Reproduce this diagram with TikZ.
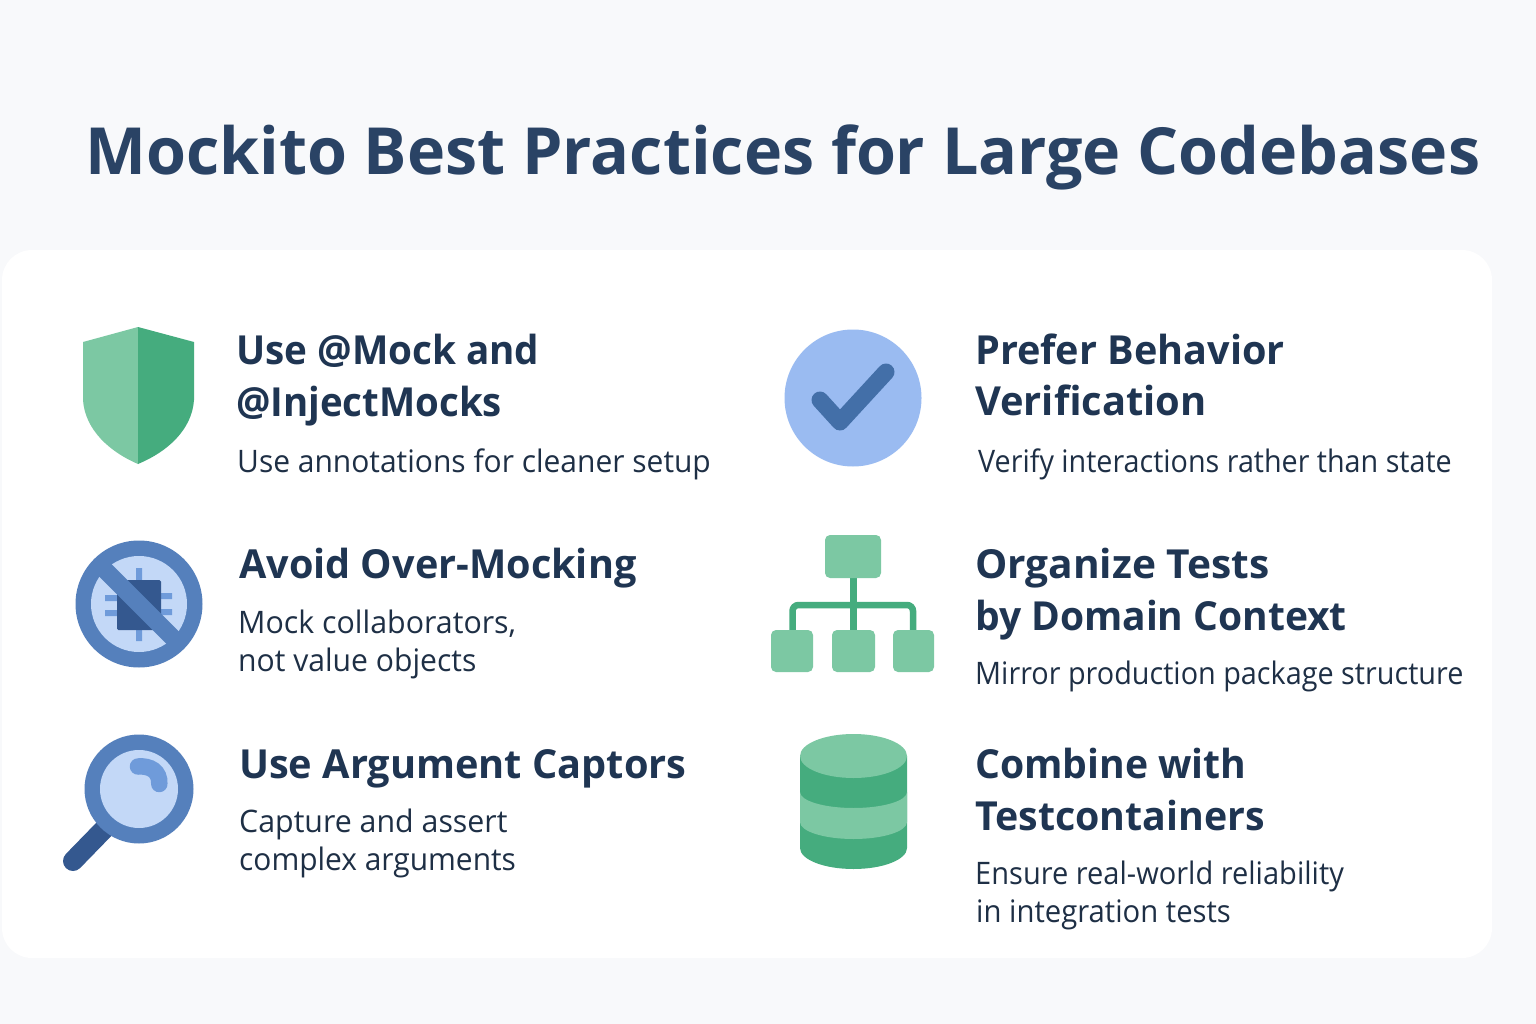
\documentclass[tikz,border=0pt]{standalone}
\usepackage{graphicx}
\usepackage{fontspec}
\setmainfont{Open Sans}
\definecolor{bgc}{HTML}{F8F9FB}
\definecolor{titlec}{HTML}{2A4365}
\definecolor{headc}{HTML}{1F3552}
\definecolor{descc}{HTML}{1E2F45}
\definecolor{gl}{HTML}{7CC8A3}
\definecolor{gd}{HTML}{45AC7E}
\definecolor{bring}{HTML}{5580BC}
\definecolor{bpale}{HTML}{C3D8F7}
\definecolor{bdark}{HTML}{34588F}
\definecolor{bmid}{HTML}{6F9BDA}
\definecolor{bsky}{HTML}{9ABBF1}
\definecolor{bcheck}{HTML}{436FA8}
\newcommand{\sx}[2]{\scalebox{#1}[1]{#2}}
\tikzset{
  titletext/.style={anchor=base west,inner sep=0pt,font=\fontsize{65}{70}\selectfont\bfseries,text=titlec},
  headtext/.style={anchor=base west,inner sep=0pt,font=\fontsize{40}{52}\selectfont\bfseries,text=headc,align=left},
  desctext/.style={anchor=base west,inner sep=0pt,font=\fontsize{31}{38}\selectfont,text=descc,align=left},
  lbox/.style={fill=gl,rounded corners=5pt},
  wire/.style={draw=gd,line width=6.5pt}
}
\begin{document}
\begin{tikzpicture}[x=1pt,y=-1pt]
\useasboundingbox (0,0) rectangle (1536,1024);
\fill[bgc] (0,0) rectangle (1536,1024);
\fill[white,rounded corners=30pt] (2,250) rectangle (1492,958);
\node[titletext] (title) at (85,175) {\sx{0.9936}{Mockito Best Practices for Large Codebases}};
% shield
\fill[gl] (138,327) -- (83,342) -- (83,400) .. controls (85,430) and (110,452) .. (138,464) -- cycle;
\fill[gd] (138,327) -- (194,342) -- (194,400) .. controls (192,430) and (167,452) .. (138,464) -- cycle;
\node[headtext] (h1a) at (236,364) {\sx{0.965}{Use @Mock and}};
\node[headtext] (h1b) at (236,416) {\sx{0.96}{@InjectMocks}};
\node[desctext] (d1) at (237,472) {\sx{0.967}{Use annotations for cleaner setup}};
% no sign
\fill[bring] (139,604) circle (63.5);
\fill[bpale] (139,604) circle (48);
\fill[bmid] (136,568) rectangle (142,580) (136,630) rectangle (142,641)
  (105,595) rectangle (117,601) (105,610) rectangle (117,616)
  (161,593) rectangle (172,599) (161,609) rectangle (172,615);
\fill[bdark,rounded corners=1.5pt] (117,580) rectangle (161,630);
\draw[bring,line width=17.5pt] (96,561) -- (182,647);
\node[headtext] (h2) at (239,578) {\sx{0.99}{Avoid Over-Mocking}};
\node[desctext] (d2a) at (238,633) {\sx{0.979}{Mock collaborators,}};
\node[desctext] (d2b) at (238,671) {\sx{0.971}{not value objects}};
% magnifier
\draw[bdark,line width=20pt,line cap=round] (110,823) -- (73,861);
\fill[bring] (139,789) circle (54.5);
\fill[bpale] (139,789) circle (39);
\draw[bmid,line width=16.5pt,line cap=round] (138,766.5) .. controls (150,765.5) and (160,771) .. (159.3,784);
\node[headtext] (h3) at (239,778) {\sx{0.993}{Use Argument Captors}};
\node[desctext] (d3a) at (239,832) {\sx{0.978}{Capture and assert}};
\node[desctext] (d3b) at (239,870) {\sx{0.965}{complex arguments}};
% check
\fill[bsky] (853,398) circle (68.5);
\draw[bcheck,line width=17pt,line cap=round,line join=round] (820,400) -- (840,422) -- (886,372);
\node[headtext] (h4a) at (975,364) {\sx{0.99}{Prefer Behavior}};
\node[headtext] (h4b) at (975,415.5) {\sx{0.996}{Verification}};
\node[desctext] (d4) at (978,472) {\sx{0.926}{Verify interactions rather than state}};
% tree
\draw[wire] (853.5,578) -- (853.5,630);
\draw[wire,rounded corners=6pt] (792.5,630) -- (792.5,605) -- (913,605) -- (913,630);
\fill[lbox] (825,535) rectangle (881,578);
\fill[lbox] (771,630) rectangle (813,672);
\fill[lbox] (832,630) rectangle (875,672);
\fill[lbox] (893,630) rectangle (934,672);
\node[headtext] (h5a) at (975,578) {\sx{1.017}{Organize Tests}};
\node[headtext] (h5b) at (975,630) {\sx{0.974}{by Domain Context}};
\node[desctext] (d5) at (975,684) {\sx{0.929}{Mirror production package structure}};
% database
\fill[gd] (800,756) -- (800,848) arc[start angle=180,end angle=0,x radius=53.5,y radius=21] -- (907,756) -- cycle;
\fill[gl] (800,792) arc[start angle=180,end angle=0,x radius=53.5,y radius=16] -- (907,822) arc[start angle=0,end angle=180,x radius=53.5,y radius=17] -- cycle;
\fill[gl] (853.5,756) ellipse[x radius=53.5,y radius=22];
\node[headtext] (h6a) at (975,778) {\sx{0.978}{Combine with}};
\node[headtext] (h6b) at (975,830) {\sx{0.983}{Testcontainers}};
\node[desctext] (d6a) at (975,884) {\sx{0.936}{Ensure real-world reliability}};
\node[desctext] (d6b) at (976,922) {\sx{0.944}{in integration tests}};
\end{tikzpicture}
\end{document}
